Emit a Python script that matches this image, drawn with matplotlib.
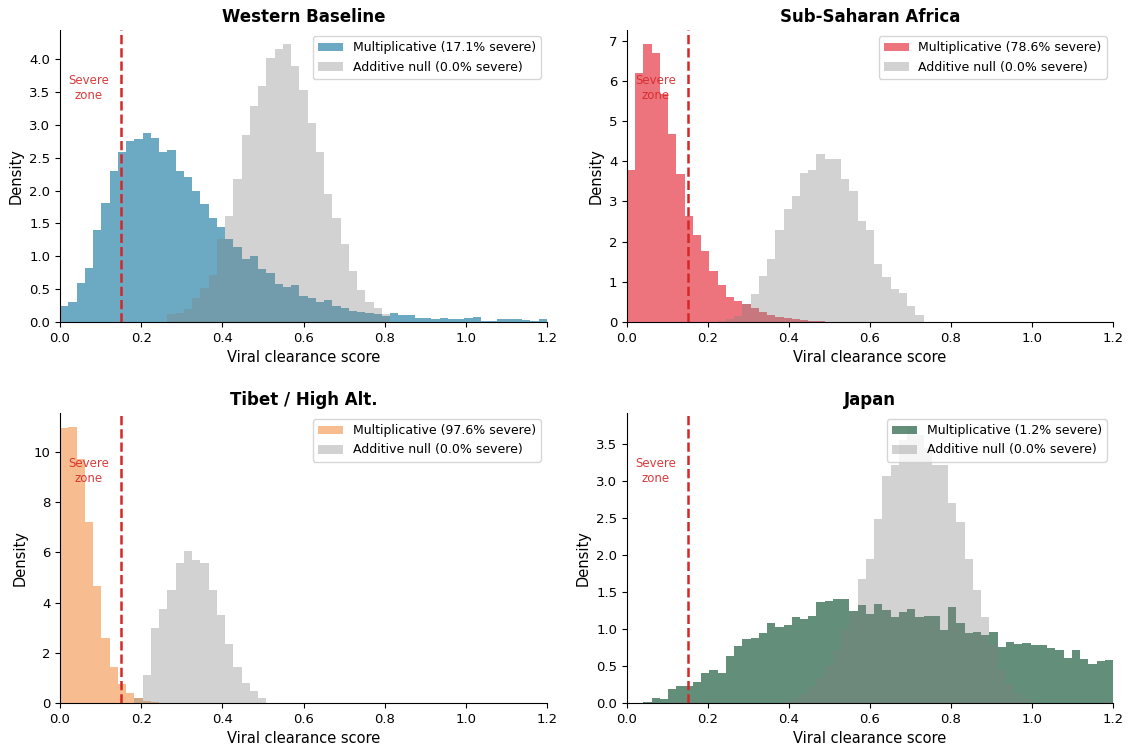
import numpy as np
import matplotlib
matplotlib.use("Agg")
import matplotlib.pyplot as plt

# ---------------- data (density per bin, 59 bins on 0..1.2) ----------------
bin_edges = np.linspace(0, 1.2, 60)

titles = ["Western Baseline", "Sub-Saharan Africa", "Tibet / High Alt.", "Japan"]
mult_severe = ["17.1%", "78.6%", "97.6%", "1.2%"]
add_severe = ["0.0%", "0.0%", "0.0%", "0.0%"]

western_mult = [0.24, 0.31, 0.60, 0.82, 1.40, 1.81, 2.29, 2.59, 2.75, 2.79,
                2.87, 2.80, 2.59, 2.61, 2.30, 2.20, 2.00, 1.80, 1.58, 1.44,
                1.26, 1.14, 0.96, 1.01, 0.80, 0.74, 0.58, 0.53, 0.56, 0.39,
                0.36, 0.31, 0.33, 0.24, 0.22, 0.17, 0.15, 0.14, 0.12, 0.09,
                0.13, 0.10, 0.10, 0.06, 0.06, 0.04, 0.06, 0.04, 0.04, 0.06,
                0.08, 0.01, 0.01, 0.04, 0.05, 0.04, 0.03, 0.02, 0.04]
western_add = [0, 0, 0, 0, 0, 0, 0, 0, 0, 0,
               0, 0, 0, 0.12, 0.13, 0.20, 0.36, 0.51, 0.71, 1.27,
               1.61, 2.18, 2.84, 3.29, 3.59, 4.01, 4.15, 4.23, 3.89, 3.53,
               3.03, 2.58, 1.95, 1.58, 1.18, 0.78, 0.48, 0.30, 0.22, 0.12,
               0, 0, 0, 0, 0, 0, 0, 0, 0, 0,
               0, 0, 0, 0, 0, 0, 0, 0, 0]

ssa_mult = [3.77, 6.19, 6.92, 6.70, 5.68, 4.68, 3.68, 2.64, 2.16, 1.77,
            1.27, 0.91, 0.63, 0.52, 0.45, 0.36, 0.25, 0.18, 0.13, 0.10,
            0.07, 0.05, 0.03, 0.02, 0.01, 0, 0, 0, 0, 0,
            0, 0, 0, 0, 0, 0, 0, 0, 0, 0,
            0, 0, 0, 0, 0, 0, 0, 0, 0, 0,
            0, 0, 0, 0, 0, 0, 0, 0, 0]
ssa_add = [0, 0, 0, 0, 0, 0, 0, 0, 0, 0,
           0.01, 0.03, 0.07, 0.16, 0.44, 0.70, 1.15, 1.58, 2.29, 2.81,
           3.14, 3.71, 3.77, 4.18, 4.06, 4.06, 3.56, 3.27, 2.51, 2.29,
           1.45, 1.12, 0.83, 0.71, 0.40, 0.17, 0, 0, 0, 0,
           0, 0, 0, 0, 0, 0, 0, 0, 0, 0,
           0, 0, 0, 0, 0, 0, 0, 0, 0]

tibet_mult = [10.98, 11.01, 9.73, 7.21, 4.65, 2.59, 1.43, 0.76, 0.40, 0.19,
              0.06, 0.02, 0, 0, 0, 0, 0, 0, 0, 0,
              0, 0, 0, 0, 0, 0, 0, 0, 0, 0,
              0, 0, 0, 0, 0, 0, 0, 0, 0, 0,
              0, 0, 0, 0, 0, 0, 0, 0, 0, 0,
              0, 0, 0, 0, 0, 0, 0, 0, 0]
tibet_add = [0, 0, 0, 0, 0, 0, 0, 0, 0, 0.20,
             1.10, 2.99, 3.75, 4.52, 5.58, 6.07, 5.71, 5.58, 4.49, 3.52,
             2.36, 1.43, 0.80, 0.49, 0.20, 0, 0, 0, 0, 0,
             0, 0, 0, 0, 0, 0, 0, 0, 0, 0,
             0, 0, 0, 0, 0, 0, 0, 0, 0, 0,
             0, 0, 0, 0, 0, 0, 0, 0, 0]

japan_mult = [0, 0.005, 0.01, 0.07, 0.06, 0.19, 0.23, 0.23, 0.29, 0.41,
              0.45, 0.41, 0.63, 0.77, 0.87, 0.88, 0.94, 1.08, 1.02, 1.05,
              1.16, 1.14, 1.17, 1.37, 1.38, 1.41, 1.41, 1.24, 1.32, 1.20,
              1.34, 1.26, 1.16, 1.23, 1.27, 1.16, 1.17, 1.18, 0.99, 1.29,
              1.08, 0.94, 0.96, 0.92, 0.96, 0.75, 0.83, 0.80, 0.81, 0.78,
              0.78, 0.74, 0.71, 0.61, 0.71, 0.59, 0.52, 0.57, 0.58]
japan_add = [0, 0, 0, 0, 0, 0, 0, 0, 0, 0,
             0, 0, 0, 0, 0, 0, 0, 0, 0, 0.03,
             0.07, 0.12, 0.22, 0.35, 0.50, 0.72, 1.00, 1.22, 1.68, 1.94,
             2.49, 3.06, 3.21, 3.55, 3.73, 3.62, 3.45, 3.22, 3.22, 2.70,
             2.45, 1.94, 1.53, 1.16, 0.80, 0.45, 0.25, 0.12, 0.05, 0.02,
             0, 0, 0, 0, 0, 0, 0, 0, 0]

mult_data = [western_mult, ssa_mult, tibet_mult, japan_mult]
add_data = [western_add, ssa_add, tibet_add, japan_add]
mult_colors = ["#2E86AB", "#E63946", "#F4A261", "#1F5E42"]

severe_threshold = 0.15

# ---------------- plotting ----------------
fig = plt.figure(figsize=(11.28, 7.55), dpi=100)
positions = [
    [60 / 1128, 1 - 322 / 755, 487 / 1128, 292 / 755],
    [627 / 1128, 1 - 322 / 755, 486 / 1128, 292 / 755],
    [60 / 1128, 1 - 703 / 755, 487 / 1128, 290 / 755],
    [627 / 1128, 1 - 703 / 755, 486 / 1128, 290 / 755],
]

centers = (bin_edges[:-1] + bin_edges[1:]) / 2
red = "#d62728"

for i in range(4):
    ax = fig.add_axes(positions[i])
    ax.hist(centers, bins=bin_edges, weights=mult_data[i], color=mult_colors[i],
            alpha=0.7, label=f"Multiplicative ({mult_severe[i]} severe)")
    ax.hist(centers, bins=bin_edges, weights=add_data[i], color="gray",
            alpha=0.35, label=f"Additive null ({add_severe[i]} severe)")
    ax.axvline(severe_threshold, color=red, linestyle="--", linewidth=1.8)
    ax.text(0.07, 0.80, "Severe\nzone", color=red, fontsize=8.5, ha="center",
            va="center", transform=ax.get_xaxis_transform(), alpha=0.9)
    ax.set_xlim(0, 1.2)
    ax.set_title(titles[i], fontsize=12, fontweight="bold")
    ax.set_xlabel("Viral clearance score", fontsize=10.5)
    ax.set_ylabel("Density", fontsize=10.5)
    ax.tick_params(labelsize=9.5)
    ax.spines["top"].set_visible(False)
    ax.spines["right"].set_visible(False)
    ax.legend(loc="upper right", fontsize=9)

fig.savefig("out.png", dpi=100)
